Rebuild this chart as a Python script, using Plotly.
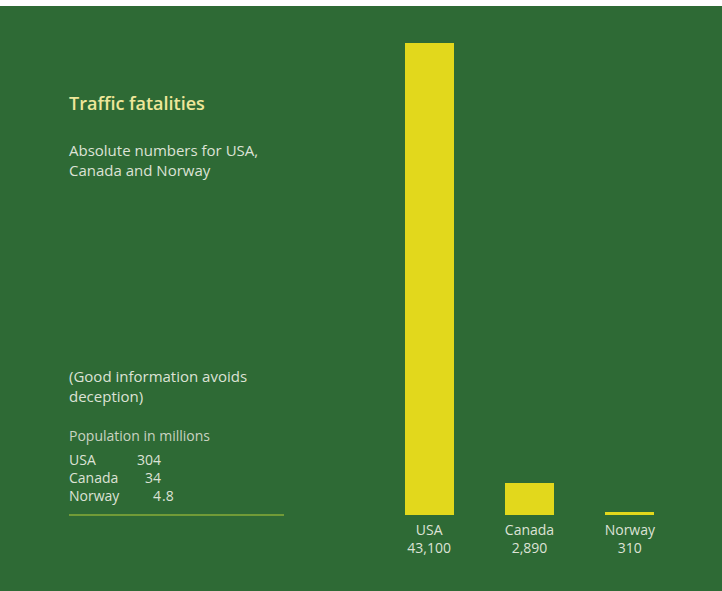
import plotly.graph_objects as go

# Traffic fatalities (absolute numbers)
countries = ["USA", "Canada", "Norway"]
fatalities = [43100, 2890, 310]

# Population in millions
pop_countries = ["USA", "Canada", "Norway"]
population = [304, 34, 4.8]

title_text = "Traffic fatalities"
subtitle_lines = ["Absolute numbers for USA,", "Canada and Norway"]
note_lines = ["(Good information avoids", "deception)"]
pop_heading = "Population in millions"

W, H = 722, 591
M_L, M_R, M_T, M_B = 379, 42, 43, 76
PW = W - M_L - M_R
PH = H - M_T - M_B

BG = "#2e6a35"
BAR = "#e2d81c"
TITLE_C = "#eee79a"
TEXT_C = "#dde2d6"
SUB_C = "#c9d3c2"
RULE_C = "#b4cc3a"
FONT = "Open Sans"


def px(x):
    return (x - M_L) / PW


def py(y):
    return (H - M_B - y) / PH


fig = go.Figure(
    go.Bar(
        x=countries,
        y=fatalities,
        width=0.49,
        marker=dict(color=BAR, line=dict(width=0)),
        hoverinfo="skip",
    )
)

annotations = []


def label(text, x, y, size, color, anchor="left", weight=None):
    annotations.append(
        dict(
            text=text,
            x=px(x), y=py(y), xref="paper", yref="paper",
            xanchor=anchor, yanchor="middle", showarrow=False,
            borderpad=0,
            font=dict(family=FONT, size=size, color=color,
                      weight=weight if weight else "normal"),
            align=anchor if anchor != "center" else "center",
        )
    )


label(title_text, 68, 103, 18, TITLE_C, weight=600)
for i, line in enumerate(subtitle_lines):
    label(line, 68, 150 + 20 * i, 15, TEXT_C)
for i, line in enumerate(note_lines):
    label(line, 68, 376 + 20 * i, 15, TEXT_C)
label(pop_heading, 68, 435, 14, SUB_C)

for i, (name, val) in enumerate(zip(pop_countries, population)):
    y = 459 + 18 * i
    label(name, 68, y, 14, TEXT_C)
    s = f"{val:g}"
    whole, _, frac = s.partition(".")
    label(whole, 162, y, 14, TEXT_C, anchor="right")
    if frac:
        label("." + frac, 161, y, 14, TEXT_C, anchor="left")

fig.update_layout(
    width=W, height=H,
    margin=dict(l=M_L, r=M_R, t=M_T, b=M_B, pad=0),
    paper_bgcolor=BG, plot_bgcolor=BG,
    showlegend=False,
    bargap=0,
    xaxis=dict(
        type="category",
        range=[-0.5, 2.5],
        tickmode="array",
        tickvals=countries,
        ticktext=[f"{c}<br>{v:,}" for c, v in zip(countries, fatalities)],
        tickfont=dict(family=FONT, size=14, color=TEXT_C),
        showgrid=False, zeroline=False, showline=False, ticks="",
        ticklabelstandoff=5,
        fixedrange=True,
    ),
    yaxis=dict(
        range=[0, 43100],
        visible=False,
        fixedrange=True,
    ),
    annotations=annotations,
    shapes=[
        # white strip along the top edge
        dict(type="rect", xref="paper", yref="paper",
             x0=px(-10), x1=px(W + 10), y0=py(6), y1=py(-10),
             fillcolor="white", line=dict(width=0), layer="below"),
        # rule under the population table
        dict(type="line", xref="paper", yref="paper",
             x0=px(69), x1=px(284), y0=py(515), y1=py(515),
             line=dict(color=RULE_C, width=1.2)),
    ],
)

fig.write_html("out.html", config={"displayModeBar": False})
